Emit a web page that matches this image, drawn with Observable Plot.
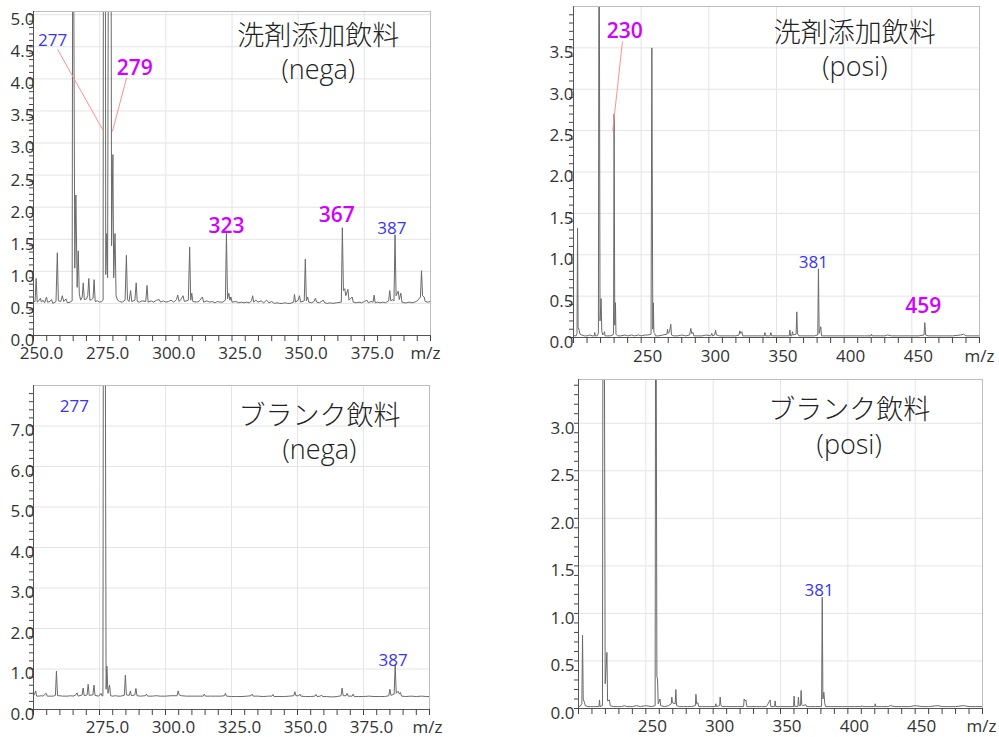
<!DOCTYPE html>
<html><head><meta charset="utf-8">
<script src="https://cdn.jsdelivr.net/npm/d3@7"></script>
<script src="https://cdn.jsdelivr.net/npm/@observablehq/plot@0.6"></script>
<style>
body{margin:0;background:#fff;}
#wrap{position:relative;width:999px;height:737px;overflow:hidden;background:#fff;}
#wrap svg{position:absolute;overflow:visible;}
</style></head><body><div id="wrap"></div>
<script>
// ---- spectra: [m/z, intensity] points ----
const detergentNega = [
[250.0,0.53],[250.6,0.53],[251.0,0.89],[251.4,0.52],[252.0,0.54],[252.6,0.58],[253.0,0.52],[253.6,0.55],[254.2,0.51],[254.9,0.60],
[255.3,0.52],[256.2,0.53],[256.8,0.56],[257.3,0.50],[258.5,0.53],[259.0,1.29],[259.4,0.54],[260.3,0.53],[260.9,0.62],[261.4,0.53],
[262.3,0.57],[262.8,0.51],[263.8,0.52],[264.6,0.54],[264.9,9.0],[265.6,1.05],[266.0,2.19],[266.5,0.75],[266.9,1.32],[267.3,0.65],
[267.8,0.55],[268.4,0.60],[268.8,0.82],[269.2,0.56],[270.0,0.57],[270.5,0.62],[270.9,0.89],[271.3,0.55],[272.0,0.56],[272.5,0.58],
[272.9,0.87],[273.3,0.53],[274.2,0.54],[275.0,0.52],[275.8,0.53],[276.3,0.55],[276.5,12],[277.0,12],[277.3,0.95],[277.7,1.59],
[278.0,0.90],[278.6,12],[279.1,12],[279.5,1.40],[280.0,2.82],[280.3,0.90],[280.8,1.59],[281.2,0.62],[281.8,0.55],[282.5,0.53],
[283.5,0.52],[284.6,0.55],[285.1,1.25],[285.5,0.56],[286.1,0.53],[286.7,0.70],[287.1,0.53],[288.3,0.55],[288.8,0.82],[289.2,0.53],
[290.0,0.52],[291.0,0.54],[292.4,0.53],[292.9,0.78],[293.3,0.52],[294.5,0.54],[295.3,0.52],[296.5,0.55],[297.5,0.56],[298.0,0.52],
[299.0,0.54],[300.0,0.52],[301.0,0.53],[302.0,0.55],[303.0,0.52],[304.0,0.56],[304.5,0.63],[305.0,0.53],[305.8,0.57],[306.5,0.62],
[307.0,0.53],[308.5,0.55],[309.0,1.38],[309.4,0.55],[309.8,0.66],[310.2,0.53],[311.5,0.52],[312.5,0.53],[313.8,0.60],[314.3,0.52],
[315.5,0.54],[316.5,0.52],[317.5,0.53],[318.5,0.51],[319.5,0.53],[320.5,0.52],[321.5,0.52],[322.5,0.55],[322.9,1.59],[323.3,0.57],
[323.8,0.66],[324.2,0.55],[324.6,0.60],[325.0,0.52],[326.5,0.53],[327.5,0.51],[328.5,0.52],[329.5,0.51],[330.5,0.52],[331.5,0.51],
[332.4,0.54],[332.8,0.62],[333.2,0.52],[334.0,0.55],[334.8,0.52],[336.0,0.54],[337.0,0.51],[338.0,0.55],[339.0,0.51],[340.0,0.53],
[341.0,0.50],[342.0,0.51],[343.0,0.50],[344.0,0.50],[345.0,0.51],[346.0,0.50],[347.0,0.50],[348.3,0.52],[348.6,0.64],[349.0,0.52],
[350.0,0.55],[350.5,0.62],[350.9,0.52],[352.3,0.54],[352.7,1.19],[353.1,0.54],[353.6,0.60],[354.0,0.52],[355.0,0.51],[356.0,0.53],
[356.5,0.58],[357.0,0.52],[358.0,0.51],[359.5,0.55],[360.0,0.51],[361.0,0.50],[362.0,0.51],[363.0,0.50],[364.5,0.51],[366.3,0.52],
[366.7,1.68],[367.1,0.70],[367.6,0.73],[368.0,0.62],[368.8,0.72],[369.2,0.55],[370.4,0.60],[370.8,0.52],[372.0,0.51],[373.0,0.52],
[374.0,0.51],[375.0,0.53],[376.0,0.55],[376.5,0.51],[377.5,0.53],[378.3,0.52],[378.7,0.63],[379.1,0.51],[380.0,0.52],[381.0,0.51],
[382.0,0.52],[383.0,0.51],[384.2,0.54],[384.6,0.70],[385.0,0.54],[385.8,0.56],[386.2,0.54],[386.6,1.57],[387.0,0.62],[387.8,0.69],
[388.2,0.56],[388.8,0.66],[389.2,0.52],[390.0,0.51],[391.0,0.51],[392.0,0.52],[393.0,0.51],[394.0,0.52],[395.0,0.54],[396.2,0.60],
[396.6,1.01],[397.0,0.62],[397.6,0.60],[398.0,0.53],[399.0,0.52],[400.0,0.53]
];
const detergentPosi = [
[200.0,0.03],[201.0,0.02],[202.0,0.02],[202.6,0.05],[203.0,1.32],[203.4,0.12],[204.2,0.09],[204.8,0.04],[206.0,0.03],[208.0,0.02],
[210.0,0.02],[212.0,0.03],[214.0,0.02],[215.3,0.02],[215.7,0.06],[216.1,0.02],[217.5,0.02],[218.4,0.05],[218.9,6.0],[219.6,0.20],
[220.4,0.47],[220.9,0.08],[221.6,0.03],[222.5,0.05],[222.9,0.07],[223.3,0.02],[225.0,0.02],[227.0,0.02],[229.0,0.03],[229.6,0.05],
[230.0,2.70],[230.5,0.15],[231.0,0.42],[231.4,0.04],[232.5,0.02],[235.0,0.02],[238.0,0.03],[240.0,0.02],[243.0,0.03],[245.0,0.02],
[248.0,0.03],[250.0,0.02],[253.0,0.03],[255.0,0.03],[257.3,0.04],[257.9,3.50],[258.6,0.10],[259.0,0.42],[259.4,0.06],[260.0,0.05],
[260.5,0.02],[263.0,0.02],[266.0,0.03],[269.0,0.04],[269.5,0.10],[270.0,0.05],[271.0,0.07],[271.9,0.16],[272.4,0.03],[274.0,0.02],
[277.0,0.02],[280.0,0.03],[283.0,0.02],[285.8,0.03],[286.7,0.11],[287.3,0.05],[288.4,0.06],[288.9,0.02],[292.0,0.02],[295.0,0.02],
[298.0,0.03],[301.5,0.02],[302.2,0.05],[302.8,0.02],[304.3,0.03],[305.0,0.09],[305.6,0.03],[308.0,0.02],[312.0,0.02],[316.0,0.02],
[320.0,0.02],[322.3,0.03],[322.9,0.08],[323.6,0.05],[324.4,0.07],[325.0,0.02],[328.0,0.02],[332.0,0.02],[336.0,0.02],[339.0,0.02],
[341.0,0.02],[341.4,0.06],[341.9,0.02],[344.0,0.02],[345.3,0.02],[345.8,0.06],[346.5,0.02],[350.0,0.02],[354.0,0.02],[357.0,0.02],
[359.4,0.02],[359.9,0.09],[360.4,0.02],[361.3,0.02],[361.8,0.07],[362.3,0.03],[364.5,0.04],[365.0,0.31],[365.5,0.05],[366.5,0.02],
[370.0,0.02],[374.0,0.02],[378.0,0.02],[380.5,0.03],[381.0,0.83],[381.5,0.05],[382.7,0.13],[383.3,0.02],[387.0,0.02],[392.0,0.02],
[396.0,0.02],[400.0,0.02],[405.0,0.02],[410.0,0.02],[415.0,0.02],[419.8,0.02],[420.2,0.04],[420.6,0.02],[425.0,0.02],[430.0,0.02],
[432.0,0.03],[435.0,0.02],[440.0,0.02],[445.0,0.02],[450.0,0.02],[455.0,0.02],[459.0,0.03],[459.6,0.18],[460.2,0.03],[462.0,0.02],
[468.0,0.02],[475.0,0.02],[480.0,0.02],[486.0,0.03],[488.2,0.04],[490.0,0.02],[495.0,0.02],[500.0,0.02]
];
const blankNega = [
[250.0,0.34],[250.4,0.38],[250.8,0.46],[251.2,0.33],[252.0,0.33],[253.0,0.34],[253.6,0.33],[254.8,0.40],[255.2,0.33],[256.5,0.33],
[257.5,0.33],[258.3,0.35],[258.7,0.95],[259.1,0.34],[260.0,0.34],[261.0,0.33],[262.0,0.33],[263.0,0.33],[264.0,0.34],[265.0,0.33],
[266.0,0.36],[266.5,0.41],[266.9,0.33],[268.4,0.36],[268.8,0.53],[269.2,0.34],[270.3,0.36],[270.7,0.62],[271.1,0.35],[272.5,0.36],
[272.9,0.60],[273.3,0.35],[274.5,0.33],[275.2,0.36],[275.6,0.40],[276.0,0.33],[276.3,0.34],[276.5,12],[277.1,12],[277.5,0.50],
[277.8,1.07],[278.2,0.40],[278.8,0.60],[279.2,0.34],[280.0,0.33],[281.0,0.34],[282.0,0.33],[283.0,0.33],[284.4,0.35],[284.8,0.85],
[285.2,0.36],[286.3,0.35],[286.7,0.46],[287.1,0.34],[288.4,0.36],[288.8,0.52],[289.2,0.34],[290.5,0.33],[292.4,0.34],[292.8,0.38],
[293.2,0.33],[295.0,0.33],[296.5,0.34],[298.0,0.33],[300.0,0.33],[302.0,0.34],[304.4,0.34],[304.8,0.46],[305.2,0.36],[306.0,0.34],
[308.0,0.33],[310.0,0.33],[312.0,0.33],[314.3,0.33],[314.7,0.38],[315.1,0.33],[317.0,0.33],[319.0,0.33],[321.0,0.33],[322.3,0.34],
[322.7,0.40],[323.1,0.33],[325.0,0.32],[327.0,0.32],[329.0,0.32],[331.0,0.33],[332.4,0.34],[332.8,0.38],[333.2,0.33],[335.0,0.33],
[337.0,0.32],[339.0,0.33],[340.3,0.33],[340.7,0.37],[341.1,0.32],[343.0,0.32],[345.0,0.32],[347.0,0.33],[348.6,0.34],[349.0,0.44],
[349.4,0.34],[350.5,0.34],[350.9,0.38],[351.3,0.33],[353.0,0.32],[355.0,0.32],[356.6,0.33],[357.0,0.37],[357.4,0.32],[358.7,0.33],
[359.1,0.36],[359.5,0.32],[361.0,0.32],[363.0,0.31],[365.0,0.32],[366.5,0.34],[366.9,0.53],[367.3,0.34],[368.4,0.34],[368.8,0.40],
[369.2,0.33],[370.7,0.33],[371.1,0.38],[371.5,0.32],[373.0,0.32],[375.0,0.32],[377.0,0.33],[379.0,0.32],[381.0,0.32],[383.0,0.32],
[384.6,0.34],[385.0,0.50],[385.4,0.35],[386.6,0.38],[387.0,1.09],[387.4,0.40],[388.1,0.45],[388.6,0.38],[389.0,0.42],[389.4,0.33],
[391.0,0.32],[393.0,0.33],[395.0,0.32],[397.0,0.33],[399.0,0.32],[400.0,0.32]
];
const blankPosi = [
[200.0,0.03],[201.0,0.02],[202.5,0.05],[203.0,0.77],[203.5,0.10],[204.5,0.06],[205.0,0.03],[207.0,0.02],[209.0,0.02],[211.0,0.02],
[213.0,0.02],[215.2,0.02],[215.6,0.09],[216.0,0.02],[217.8,0.03],[218.3,6.0],[218.9,6.0],[219.8,0.26],[221.1,0.59],[221.6,0.08],
[223.0,0.09],[223.5,0.03],[226.0,0.02],[229.0,0.02],[232.0,0.02],[234.0,0.03],[236.0,0.02],[240.0,0.02],[243.0,0.03],[246.0,0.02],
[250.0,0.03],[254.0,0.02],[256.9,0.03],[257.4,6.0],[258.2,0.34],[258.7,0.30],[259.2,0.05],[260.5,0.10],[261.0,0.03],[264.0,0.02],
[267.0,0.03],[268.9,0.05],[269.3,0.12],[269.8,0.06],[271.8,0.05],[272.3,0.20],[272.8,0.03],[275.0,0.02],[278.0,0.02],[281.0,0.02],
[284.0,0.02],[286.8,0.03],[287.2,0.15],[287.7,0.05],[288.7,0.06],[289.2,0.02],[292.0,0.02],[295.0,0.02],[298.0,0.02],[301.6,0.02],
[302.0,0.05],[302.4,0.02],[304.8,0.03],[305.2,0.12],[305.7,0.04],[306.5,0.02],[310.0,0.02],[314.0,0.02],[318.0,0.02],[322.6,0.02],
[323.0,0.10],[323.6,0.08],[324.3,0.09],[325.0,0.02],[328.0,0.02],[332.0,0.02],[336.0,0.02],[339.5,0.02],[340.0,0.03],[342.3,0.09],
[342.8,0.02],[345.6,0.02],[346.0,0.08],[346.5,0.02],[350.0,0.02],[354.0,0.02],[357.0,0.02],[359.7,0.02],[360.1,0.13],[360.6,0.02],
[362.9,0.02],[363.3,0.12],[363.8,0.03],[364.9,0.03],[365.3,0.19],[365.8,0.04],[366.5,0.03],[368.8,0.04],[369.3,0.02],[372.0,0.02],
[376.0,0.02],[380.5,0.02],[381.0,1.17],[381.5,0.10],[382.2,0.17],[382.8,0.06],[383.5,0.02],[387.0,0.02],[392.0,0.02],[396.0,0.02],
[400.0,0.02],[405.0,0.02],[410.2,0.02],[410.5,0.03],[411.0,0.02],[415.0,0.02],[420.0,0.02],[420.3,0.05],[420.7,0.02],[425.0,0.02],
[430.0,0.02],[431.5,0.03],[435.0,0.02],[440.0,0.02],[446.0,0.02],[450.0,0.03],[455.0,0.02],[460.0,0.02],[467.0,0.03],[470.0,0.02],
[475.0,0.02],[480.0,0.02],[486.0,0.03],[490.0,0.02],[495.0,0.02],[500.0,0.02]
];

// ---- tick labels ----
const negaTopXTicks = [250, 275, 300, 325, 350, 375];
const negaBottomXTicks = [275, 300, 325, 350, 375];
const posiXTicks = [250, 300, 350, 400, 450];
const detNegaYTicks = [0, 0.5, 1.0, 1.5, 2.0, 2.5, 3.0, 3.5, 4.0, 4.5, 5.0];
const detPosiYTicks = [0, 0.5, 1.0, 1.5, 2.0, 2.5, 3.0, 3.5];
const blankNegaYTicks = [0, 1, 2, 3, 4, 5, 6, 7];
const blankPosiYTicks = [0, 0.5, 1.0, 1.5, 2.0, 2.5, 3.0];

// ---- titles & peak annotations (anchored in data coordinates) ----
const titleDetergent = "洗剤添加飲料";
const titleBlank = "ブランク飲料";
const detNegaLabels = [
  {text: "277", mz: 257.2, v: 4.60, kind: "blue"},
  {text: "279", mz: 288.3, v: 4.16, kind: "mag"},
  {text: "323", mz: 322.9, v: 1.70, kind: "mag"},
  {text: "367", mz: 364.6, v: 1.87, kind: "mag"},
  {text: "387", mz: 385.4, v: 1.66, kind: "blue"}
];
const detNegaLeaders = [
  {mz1: 259.1, v1: 4.46, mz2: 276.4, v2: 3.19},
  {mz1: 285.2, v1: 4.02, mz2: 279.8, v2: 3.18}
];
const detPosiLabels = [
  {text: "230", mz: 237.9, v: 3.70, kind: "mag"},
  {text: "381", mz: 377.2, v: 0.91, kind: "blue"},
  {text: "459", mz: 458.5, v: 0.38, kind: "mag"}
];
const detPosiLeaders = [
  {mz1: 236.2, v1: 3.58, mz2: 229.0, v2: 2.50}
];
const blankNegaLabels = [
  {text: "277", mz: 265.5, v: 7.47, kind: "blue"},
  {text: "387", mz: 386.2, v: 1.21, kind: "blue"}
];
const blankPosiLabels = [
  {text: "381", mz: 378.7, v: 1.24, kind: "blue"}
];

const BLUE = "#3535ff", MAG = "#d200ff";
const FONT = "'Open Sans', 'Noto Sans CJK JP', sans-serif";

function panel(c) {
  const pts = c.data.map(([mz, v]) => ({mz, v}));
  const [x0, x1] = c.xDomain, [y0, y1] = c.yDomain;
  const xMinor = d3.range(x0, x1 + 0.001, c.xMinorStep);
  const yMinor = d3.range(y0, y1, c.yMinorStep);
  const lbls = c.labels;
  const svg = Plot.plot({
    width: c.width, height: c.height,
    marginLeft: c.ml, marginRight: c.mr, marginTop: c.mt, marginBottom: c.mb,
    style: {fontFamily: FONT, fontSize: "17px", color: "#333", background: "transparent", overflow: "visible"},
    x: {domain: c.xDomain, label: null},
    y: {domain: c.yDomain, label: null},
    marks: [
      Plot.gridX(c.xGrid, {stroke: "#e4e4e4", strokeOpacity: 1}),
      Plot.gridY(c.yTicks, {stroke: "#e4e4e4", strokeOpacity: 1}),
      Plot.line(pts, {x: "mz", y: "v", stroke: "#6a6a6a", strokeWidth: 1, clip: true}),
      Plot.frame({stroke: "#bdbdbd"}),
      Plot.ruleX([x0], {stroke: "#555"}),
      Plot.ruleY([y0], {stroke: "#555"}),
      Plot.axisX(xMinor, {tickSize: 6, tickFormat: () => "", stroke: "#444"}),
      Plot.axisX(c.xTicks, {tickSize: 0, tickPadding: c.xPad, dx: c.xdx, tickFormat: c.xFormat, fill: "#333"}),
      Plot.axisY(yMinor, {tickSize: 4, tickFormat: () => "", stroke: "#444"}),
      Plot.axisY(c.yTicks, {tickSize: 0, tickPadding: c.yPad, dy: 5, tickFormat: d => d.toFixed(1), fill: "#333"}),
      Plot.text(["m/z"], {frameAnchor: "bottom-right", textAnchor: "middle", lineAnchor: "top", dx: c.mzdx, dy: c.xPad, fill: "#333"}),
      Plot.link(c.leaders || [], {x1: "mz1", y1: "v1", x2: "mz2", y2: "v2", stroke: "#ff8f8f", strokeWidth: 1}),
      Plot.text(lbls.filter(d => d.kind === "blue"), {x: "mz", y: "v", text: "text", fill: BLUE, fontSize: 17}),
      Plot.text(lbls.filter(d => d.kind === "mag"), {x: "mz", y: "v", text: "text", fill: MAG, fontSize: 21, fontWeight: 600}),
      Plot.text([c.title, c.sub], {x: [c.titleMz, c.titleMz], y: [c.titleV, c.subV], text: d => d, fill: "#222", fontSize: 27, fontWeight: 300})
    ]
  });
  svg.style.left = c.left + "px";
  svg.style.top = c.top + "px";
  document.getElementById("wrap").appendChild(svg);
}

const fmt1 = d => d.toFixed(1);
const fmt0 = d => String(d);

panel({left: 0, top: 0, width: 440, height: 370, ml: 33, mr: 10, mt: 11, mb: 35,
  data: detergentNega, xDomain: [250, 400], yDomain: [0, 5.05], xMinorStep: 5, yMinorStep: 0.1,
  xGrid: negaBottomXTicks, xTicks: negaTopXTicks, xFormat: fmt1, xdx: 8, xPad: 11, yTicks: detNegaYTicks, yPad: -1, mzdx: -5,
  labels: detNegaLabels, leaders: detNegaLeaders, title: titleDetergent, sub: "(nega)", titleMz: 357.6, titleV: 4.66, subV: 4.13});

panel({left: 520, top: 0, width: 479, height: 370, ml: 53, mr: 20, mt: 6, mb: 33,
  data: detergentPosi, xDomain: [200, 500], yDomain: [0, 4.0], xMinorStep: 10, yMinorStep: 0.1,
  xGrid: posiXTicks, xTicks: posiXTicks, xFormat: fmt0, xdx: 6.5, xPad: 12, yTicks: detPosiYTicks, yPad: 0, mzdx: 0,
  labels: detPosiLabels, leaders: detPosiLeaders, title: titleDetergent, sub: "(posi)", titleMz: 407.9, titleV: 3.68, subV: 3.26});

panel({left: 0, top: 370, width: 440, height: 367, ml: 33, mr: 11, mt: 15, mb: 28,
  data: blankNega, xDomain: [250, 400], yDomain: [0, 8.0], xMinorStep: 5, yMinorStep: 0.2,
  xGrid: negaBottomXTicks, xTicks: negaBottomXTicks, xFormat: fmt1, xdx: 8, xPad: 11.5, yTicks: blankNegaYTicks, yPad: -1, mzdx: -2,
  labels: blankNegaLabels, leaders: [], title: titleBlank, sub: "(nega)", titleMz: 358.3, titleV: 7.25, subV: 6.39});

panel({left: 520, top: 370, width: 479, height: 367, ml: 58, mr: 17, mt: 9, mb: 29,
  data: blankPosi, xDomain: [200, 500], yDomain: [0, 3.46], xMinorStep: 10, yMinorStep: 0.1,
  xGrid: posiXTicks, xTicks: posiXTicks, xFormat: fmt0, xdx: 6.5, xPad: 11, yTicks: blankPosiYTicks, yPad: 4, mzdx: -1,
  labels: blankPosiLabels, leaders: [], title: titleBlank, sub: "(posi)", titleMz: 401.0, titleV: 3.14, subV: 2.77});
</script></body></html>
